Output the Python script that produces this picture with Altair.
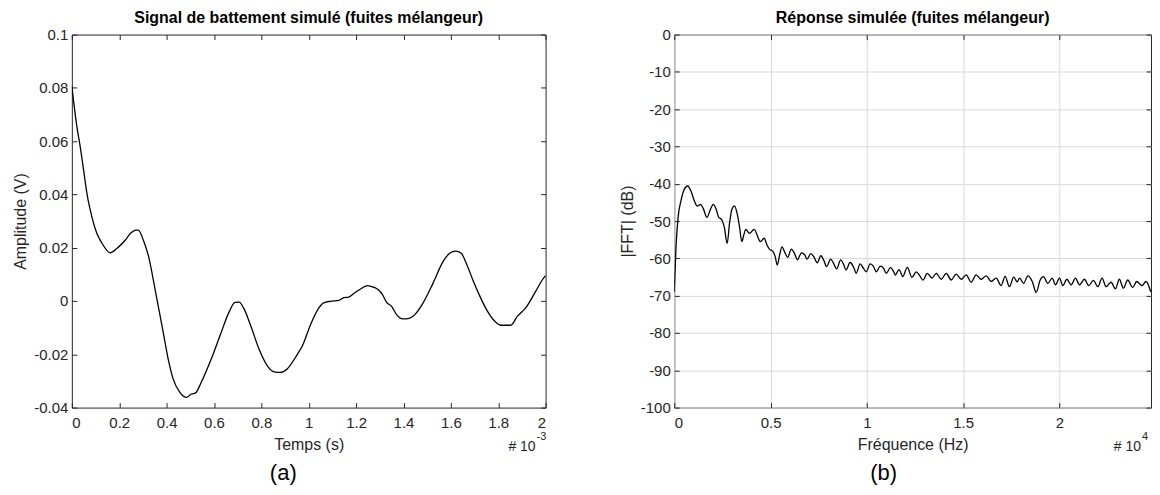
import altair as alt
import pandas as pd

# ---------------- data : panel (a) ----------------
temps_ms = [0.000, 0.022, 0.036, 0.050, 0.064, 0.085, 0.106, 0.124, 0.162, 0.190,
            0.225, 0.250, 0.270, 0.281, 0.302, 0.326, 0.344, 0.365, 0.386, 0.407,
            0.428, 0.456, 0.484, 0.505, 0.521, 0.546, 0.588, 0.630, 0.665, 0.689,
            0.707, 0.725, 0.756, 0.791, 0.826, 0.854, 0.879, 0.910, 0.952, 0.973,
            1.008, 1.043, 1.063, 1.091, 1.127, 1.148, 1.169, 1.196, 1.224, 1.248,
            1.273, 1.294, 1.312, 1.329, 1.350, 1.371, 1.398, 1.419, 1.448, 1.483,
            1.525, 1.567, 1.595, 1.620, 1.644, 1.665, 1.693, 1.720, 1.755, 1.790,
            1.811, 1.853, 1.881, 1.916, 1.958, 1.993, 2.000]
amplitude_v = [0.0806, 0.0650, 0.0576, 0.0489, 0.0402, 0.0315, 0.0253, 0.0222, 0.0181, 0.0197,
               0.0228, 0.0256, 0.0266, 0.0266, 0.0228, 0.0160, 0.0079, -0.0020, -0.0119, -0.0219,
               -0.0293, -0.0343, -0.0362, -0.0349, -0.0346, -0.0306, -0.0219, -0.0119, -0.0039, -0.0005,
               -0.0004, -0.0026, -0.0095, -0.0182, -0.0244, -0.0266, -0.0268, -0.0254, -0.0200, -0.0169,
               -0.0088, -0.0026, -0.0007, -0.0001, 0.0002, 0.0013, 0.0015, 0.0032, 0.0048, 0.0058,
               0.0052, 0.0042, 0.0023, -0.0005, -0.0020, -0.0051, -0.0067, -0.0066, -0.0051, -0.0007,
               0.0067, 0.0148, 0.0179, 0.0187, 0.0179, 0.0142, 0.0079, 0.0023, -0.0039, -0.0080,
               -0.0091, -0.0091, -0.0057, -0.0026, 0.0036, 0.0088, 0.0095]

# ---------------- data : panel (b) ----------------
freq_hz = [0, 90, 200, 350, 520, 700, 884, 1057, 1195, 1367, 1505, 1695, 1868, 2023, 2161,
           2299, 2472, 2593, 2748, 2869, 2990, 3128, 3266, 3387, 3508, 3611, 3715, 3905, 4147,
           4475, 4665, 4820, 4950, 5100, 5244, 5348, 5470, 5592, 5749, 5889, 6080, 6254, 6394,
           6603, 6777, 6899, 7091, 7247, 7422, 7613, 7770, 7910, 8119, 8258, 8432, 8641, 8780,
           8920, 9129, 9338, 9443, 9652, 9826, 9965, 10174, 10348, 10488, 10697, 10871, 11010,
           11220, 11394, 11480, 11660, 11760, 11860, 12099, 12340, 12565, 12740, 12910, 13135,
           13377, 13601, 13860, 14119, 14378, 14637, 14896, 15155, 15414, 15674, 15933, 16192,
           16451, 16710, 16969, 17176, 17400, 17625, 17800, 17928, 18135, 18360, 18584, 18791,
           18998, 19171, 19396, 19620, 19793, 20000, 20173, 20380, 20605, 20829, 21036, 21295,
           21520, 21761, 21986, 22211, 22418, 22677, 22901, 23109, 23316, 23540, 23799, 24007,
           24283, 24490, 24663, 24732]
fft_db = [-69.0, -57.0, -49.0, -44.5, -41.5, -40.6, -42.2, -44.8, -46.0, -45.5, -46.6, -49.0, -47.0, -45.5, -46.6,
          -48.9, -49.7, -51.5, -56.0, -50.6, -46.9, -45.9, -48.0, -51.5, -55.5, -53.7, -52.2, -53.3, -52.2,
          -55.5, -54.6, -56.5, -57.6, -58.0, -59.6, -61.8, -59.1, -56.9, -58.5, -59.7, -57.5, -58.8, -60.4,
          -58.5, -59.1, -60.2, -58.7, -59.6, -61.2, -59.3, -60.6, -62.2, -60.2, -61.2, -62.8, -60.4, -61.5,
          -63.1, -61.1, -62.7, -64.0, -61.5, -62.7, -63.6, -61.5, -62.2, -63.6, -62.1, -62.7, -64.0,
          -62.5, -63.6, -64.5, -63.0, -63.8, -64.9, -62.4, -65.1, -63.6, -64.6, -65.8, -64.0,
          -65.3, -64.0, -65.6, -64.0, -65.8, -64.2, -65.6, -64.4, -66.4, -64.4, -65.6, -64.7,
          -66.2, -65.3, -67.3, -64.8, -67.6, -65.0, -66.3, -65.3, -66.7, -64.7, -66.2, -69.1,
          -65.8, -64.9, -66.7, -65.3, -67.1, -65.3, -67.3, -65.6, -67.1, -65.3, -67.1, -65.6,
          -67.3, -65.9, -67.6, -65.3, -67.6, -66.4, -68.2, -65.6, -68.0, -65.8, -67.8, -66.2,
          -67.3, -66.2, -67.8, -69.0]

# ---------------- axes ticks / texts ----------------
temps_ticks = [0, 0.2, 0.4, 0.6, 0.8, 1, 1.2, 1.4, 1.6, 1.8, 2]
amp_ticks = [-0.04, -0.02, 0, 0.02, 0.04, 0.06, 0.08, 0.1]
freq_ticks = [0, 5000, 10000, 15000, 20000]
db_ticks = [-100, -90, -80, -70, -60, -50, -40, -30, -20, -10, 0]

title_a = "Signal de battement simulé (fuites mélangeur)"
title_b = "Réponse simulée (fuites mélangeur)"
xlabel_a, ylabel_a = "Temps (s)", "Amplitude (V)"
xlabel_b, ylabel_b = "Fréquence (Hz)", "|FFT| (dB)"
caption_a, caption_b = "(a)", "(b)"
exp_base = "# 10"
exp_a, exp_b = "-3", "4"

FONT = "Liberation Sans"
TXT = "#262626"
W1, W2, H = 475, 478, 374
TICK = 5


def inner_axis(orient, values, title=None, labels=True, grid=False, label_expr=None,
               label_pad=5, title_pad=6):
    kw = dict(orient=orient, values=values, offset=-TICK, tickSize=TICK, domain=False,
              grid=grid, labels=labels, labelPadding=label_pad, titlePadding=title_pad,
              gridColor="#d9d9d9", gridWidth=1)
    kw["title"] = title if title is not None else None
    if label_expr is not None:
        kw["labelExpr"] = label_expr
    return alt.Axis(**kw)


def text_layer(txt, x, y, size, align="center", baseline="middle", color=TXT):
    return alt.Chart(pd.DataFrame({"s": [txt]})).mark_text(
        font=FONT, fontSize=size, align=align, baseline=baseline, color=color
    ).encode(text="s:N", x=alt.value(x), y=alt.value(y))


def panel(df, xf, yf, xdom, ydom, xticks, yticks, xlab, ylab, title, width, grid,
          xexpr, caption, exp_sup, cap_x):
    xs = alt.Scale(domain=xdom, nice=False, zero=False)
    ys = alt.Scale(domain=ydom, nice=False, zero=False)
    line = alt.Chart(df).mark_line(color="black", strokeWidth=1.3, interpolate="monotone",
                                   clip=True).encode(
        x=alt.X(f"{xf}:Q", scale=xs,
                axis=inner_axis("bottom", xticks, xlab, grid=grid, label_expr=xexpr,
                                label_pad=8, title_pad=6)),
        y=alt.Y(f"{yf}:Q", scale=ys,
                axis=inner_axis("left", yticks, ylab, grid=grid, label_expr="'' + datum.value",
                                label_pad=4, title_pad=5)),
    )
    mirror = alt.Chart(df).mark_line(opacity=0).encode(
        x=alt.X(f"{xf}:Q", axis=inner_axis("top", xticks, labels=False)),
        y=alt.Y(f"{yf}:Q", axis=inner_axis("right", yticks, labels=False)),
    )
    layers = [
        line, mirror,
        text_layer(exp_base, width - 10, 418, 14, align="right", baseline="alphabetic"),
        text_layer(exp_sup, width - 9, 406, 11, align="left", baseline="alphabetic"),
        text_layer(caption, cap_x, 440, 22, color="black"),
    ]
    return alt.layer(*layers).resolve_axis(x="independent", y="independent").properties(
        width=width, height=H,
        title=alt.Title(title, font=FONT, fontSize=16, fontWeight="bold", color="black",
                        offset=2, anchor="middle"),
    )


df_a = pd.DataFrame({"t": temps_ms, "v": amplitude_v})
df_b = pd.DataFrame({"f": freq_hz, "db": fft_db})

left = panel(df_a, "t", "v", [0, 2], [-0.04, 0.1], temps_ticks, amp_ticks,
             xlabel_a, ylabel_a, title_a, W1, False, "'' + datum.value",
             caption_a, exp_a, 212)
right = panel(df_b, "f", "db", [0, 24750], [-100, 0], freq_ticks, db_ticks,
              xlabel_b, ylabel_b, title_b, W2, True, "'' + (datum.value / 10000)",
              caption_b, exp_b, 210)

chart = alt.hconcat(left, right, spacing=129, bounds="flush").properties(
    padding={"left": 4, "top": 0, "right": 0, "bottom": 4},
    background="white",
).configure_view(
    stroke=TXT, strokeWidth=1
).configure_axis(
    labelFont=FONT, labelFontSize=15, labelColor=TXT,
    titleFont=FONT, titleFontSize=16, titleFontWeight="normal", titleColor=TXT,
    tickColor=TXT, tickWidth=1,
)

chart.save("out.html", embed_options={"renderer": "svg", "actions": False})
